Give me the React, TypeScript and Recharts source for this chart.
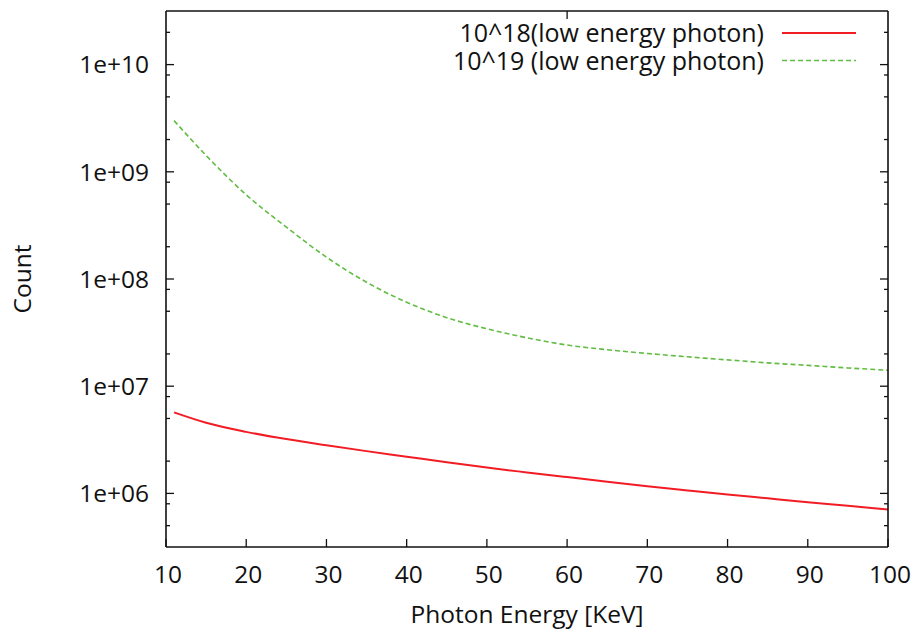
import React from "react";
import { Label, Legend, Line, LineChart, XAxis, YAxis } from "recharts";

// photon energy [KeV] sampled along both curves
const energy = [11, 15, 20, 25, 30, 35, 40, 45, 50, 55, 60, 65, 70, 75, 80, 85, 90, 95, 100];
// 10^18 run, counts
const low18 = [
  5.7e6, 4.56e6, 3.75e6, 3.21e6, 2.81e6, 2.48e6, 2.2e6, 1.95e6, 1.74e6, 1.57e6, 1.42e6, 1.285e6, 1.167e6,
  1.067e6, 9.77e5, 8.99e5, 8.28e5, 7.66e5, 7.08e5,
];
// 10^19 run, counts
const low19 = [
  3.0e9, 1.42e9, 6.1e8, 3.05e8, 1.6e8, 9.33e7, 6.07e7, 4.36e7, 3.43e7, 2.83e7, 2.42e7, 2.19e7, 2.02e7,
  1.88e7, 1.76e7, 1.65e7, 1.565e7, 1.48e7, 1.41e7,
];

const xTicks = [10, 20, 30, 40, 50, 60, 70, 80, 90, 100];
const yMajor = [1e6, 1e7, 1e8, 1e9, 1e10];
const yMinor = [5e5, 8e5, 2e6, 5e6, 8e6, 2e7, 5e7, 8e7, 2e8, 5e8, 8e8, 2e9, 5e9, 8e9, 2e10];
const yTicks = [...yMajor, ...yMinor].sort((a, b) => a - b);
const yDomain = [Math.pow(10, 5.5), Math.pow(10, 10.5)];

const SERIES = [
  { key: "low18", name: "10^18(low energy photon)", color: "#f21c24", dash: undefined, width: 2 },
  { key: "low19", name: "10^19 (low energy photon)", color: "#62bd44", dash: "5 3", width: 1.6 },
];

const data = energy.map((e, i) => ({ energy: e, low18: low18[i], low19: low19[i] }));

const FONT = "'Open Sans', sans-serif";
const FONT_SIZE = 24.5;
const INK = "#111";

const fmtExp = (v: number) => {
  const e = Math.round(Math.log10(v));
  return `1e+${String(e).padStart(2, "0")}`;
};

// gnuplot style ticks: drawn inward from the border, minor ones shorter
function LeftTick({ x, y, payload }: any) {
  const major = yMajor.includes(payload.value);
  return (
    <g>
      <line x1={x} x2={x + (major ? 8 : 4)} y1={y} y2={y} stroke={INK} strokeWidth={1.3} />
      {major && (
        <text x={x - 17} y={y} dy="0.36em" textAnchor="end" fontFamily={FONT} fontSize={FONT_SIZE} fill={INK}>
          {fmtExp(payload.value)}
        </text>
      )}
    </g>
  );
}

function RightTick({ x, y, payload }: any) {
  const major = yMajor.includes(payload.value);
  return <line x1={x} x2={x - (major ? 8 : 4)} y1={y} y2={y} stroke={INK} strokeWidth={1.3} />;
}

function BottomTick({ x, y, payload }: any) {
  return (
    <g>
      <line x1={x} x2={x} y1={y} y2={y - 8} stroke={INK} strokeWidth={1.3} />
      <text x={x + 2} y={y + 36} textAnchor="middle" fontFamily={FONT} fontSize={FONT_SIZE} fill={INK}>
        {payload.value}
      </text>
    </g>
  );
}

function TopTick({ x, y }: any) {
  return <line x1={x} x2={x} y1={y} y2={y + 8} stroke={INK} strokeWidth={1.3} />;
}

function CountLabel({ viewBox }: any) {
  const cx = viewBox.x + viewBox.width - 135;
  const cy = viewBox.y + viewBox.height / 2;
  return (
    <text
      x={cx}
      y={cy}
      transform={`rotate(-90 ${cx} ${cy})`}
      textAnchor="middle"
      fontFamily={FONT}
      fontSize={FONT_SIZE}
      fill={INK}
    >
      Count
    </text>
  );
}

function EnergyLabel({ viewBox }: any) {
  return (
    <text
      x={viewBox.x + viewBox.width / 2}
      y={viewBox.y + 76}
      textAnchor="middle"
      fontFamily={FONT}
      fontSize={FONT_SIZE}
      fill={INK}
    >
      Photon Energy [KeV]
    </text>
  );
}

function KeyBox({ payload }: any) {
  return (
    <svg width={914} height={80} style={{ display: "block" }}>
      {(payload || []).map((entry: any, i: number) => {
        const s = SERIES.find((d) => d.key === entry.dataKey) || SERIES[i];
        const rowY = 33 + i * 27.5;
        return (
          <g key={s.key}>
            <text x={764} y={rowY + 9} textAnchor="end" fontFamily={FONT} fontSize={25} fill={INK}>
              {entry.value}
            </text>
            <line x1={782} x2={856} y1={rowY} y2={rowY} stroke={s.color} strokeWidth={s.width} strokeDasharray={s.dash} />
          </g>
        );
      })}
    </svg>
  );
}

export default function App() {
  const axisLine = { stroke: INK, strokeWidth: 1.6 };
  return (
    <div style={{ position: "absolute", left: 0, top: 0, background: "#fff" }}>
      <LineChart width={914} height={629} data={data} margin={{ top: 6, right: 16, bottom: 32, left: 106 }}>
        <XAxis
          xAxisId="b"
          dataKey="energy"
          type="number"
          domain={[10, 100]}
          ticks={xTicks}
          interval={0}
          height={50}
          tickSize={0}
          tickMargin={0}
          tickLine={false}
          axisLine={axisLine}
          tick={<BottomTick />}
        >
          <Label content={<EnergyLabel />} />
        </XAxis>
        <XAxis
          xAxisId="t"
          orientation="top"
          type="number"
          domain={[10, 100]}
          ticks={xTicks}
          interval={0}
          height={5}
          tickSize={0}
          tickMargin={0}
          tickLine={false}
          axisLine={axisLine}
          tick={<TopTick />}
        />
        <YAxis
          yAxisId="l"
          type="number"
          scale="log"
          domain={yDomain}
          allowDataOverflow
          ticks={yTicks}
          interval={0}
          width={60}
          tickSize={0}
          tickMargin={0}
          tickLine={false}
          axisLine={axisLine}
          tick={<LeftTick />}
        >
          <Label content={<CountLabel />} />
        </YAxis>
        <YAxis
          yAxisId="r"
          orientation="right"
          type="number"
          scale="log"
          domain={yDomain}
          allowDataOverflow
          ticks={yTicks}
          interval={0}
          width={10}
          tickSize={0}
          tickMargin={0}
          tickLine={false}
          axisLine={axisLine}
          tick={<RightTick />}
        />
        <Legend
          layout="vertical"
          align="center"
          verticalAlign="middle"
          content={<KeyBox />}
          wrapperStyle={{ position: "absolute", top: 0, left: 0, width: 914, height: 80 }}
        />
        {SERIES.map((s) => (
          <Line
            key={s.key}
            xAxisId="b"
            yAxisId="l"
            type="monotone"
            dataKey={s.key}
            name={s.name}
            stroke={s.color}
            strokeWidth={s.width}
            strokeDasharray={s.dash}
            dot={false}
            isAnimationActive={false}
          />
        ))}
      </LineChart>
    </div>
  );
}
